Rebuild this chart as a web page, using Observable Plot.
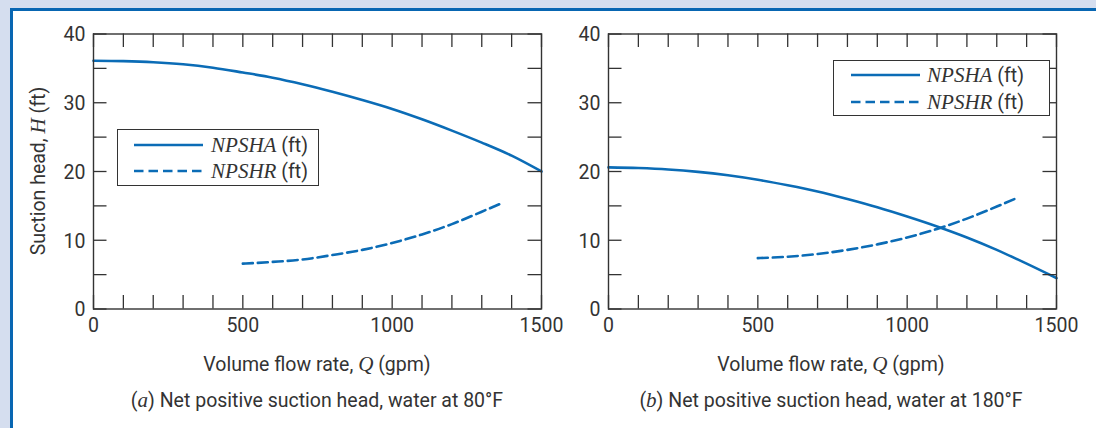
<!DOCTYPE html>
<html><head><meta charset="utf-8">
<script src="https://cdn.jsdelivr.net/npm/d3@7"></script>
<script src="https://cdn.jsdelivr.net/npm/@observablehq/plot@0.6"></script>
<style>
html,body{margin:0;padding:0}
body{width:1096px;height:428px;overflow:hidden;background:#fff;position:relative;font-family:Roboto,"Liberation Sans",sans-serif;color:#333}
.band-top{position:absolute;left:0;top:0;width:1096px;height:8px;background:#d5deef}
.line-top{position:absolute;left:10px;top:8px;width:1086px;height:3px;background:#0866b2}
.band-left{position:absolute;left:0;top:0;width:10px;height:428px;background:#d5deef}
.line-left{position:absolute;left:10px;top:8px;width:3px;height:420px;background:#0866b2}
.panel{position:absolute;top:0}
.lbl{position:absolute;font-size:19.5px;color:#333;white-space:nowrap;transform:translate(-50%,-50%)}
.it{font-family:"Liberation Serif","DejaVu Serif",serif;font-style:italic;font-size:1.08em}
.legend{position:absolute;box-sizing:border-box;border:1.2px solid #333;background:#fff}
.legend svg{position:absolute;overflow:visible}
.legend .txt{position:absolute;font-size:19.5px;white-space:nowrap;transform:translateY(-50%);color:#333}
.ytitle{position:absolute;left:38px;top:171px;font-size:19.5px;white-space:nowrap;transform:translate(-50%,-50%) rotate(-90deg);color:#333}
</style>
</head><body>
<div class="band-top"></div><div class="band-left"></div>
<div class="line-top"></div><div class="line-left"></div>
<div id="left" class="panel" style="left:0"></div>
<div id="right" class="panel" style="left:560px"></div>
<div class="ytitle">Suction head, <span class="it">H</span> (ft)</div>
<div class="lbl" style="left:317px;top:364px">Volume flow rate, <span class="it">Q</span> (gpm)</div>
<div class="lbl" style="left:317px;top:400px">(<span class="it">a</span>) Net positive suction head, water at 80°F</div>
<div class="lbl" style="left:831px;top:364px">Volume flow rate, <span class="it">Q</span> (gpm)</div>
<div class="lbl" style="left:831px;top:400px">(<span class="it">b</span>) Net positive suction head, water at 180°F</div>
<div id="legA" class="legend" style="left:117px;top:129px;width:202px;height:57px"></div>
<div id="legB" class="legend" style="left:833px;top:60px;width:217px;height:56px"></div>
<script>
// ---- data ----
const flowA = [0,100,200,300,400,500,600,700,800,900,1000,1100,1200,1300,1400,1500];
const npshaA80 = [36.1,36.05,35.9,35.6,35.1,34.4,33.65,32.7,31.6,30.4,29.1,27.6,25.95,24.2,22.3,20.0];
const npshaA180 = [20.6,20.5,20.3,19.95,19.45,18.8,18.0,17.1,16.0,14.8,13.45,12.0,10.4,8.6,6.6,4.5];
const flowR = [500,600,700,800,900,1000,1100,1200,1300,1370];
const npshrR80 = [6.6,6.85,7.2,7.85,8.6,9.6,10.85,12.35,14.15,15.45];
const npshrR180 = [7.4,7.6,8.0,8.6,9.4,10.4,11.65,13.15,14.9,16.2];
const xMinor = d3.range(0,1501,100);
const yMinor = d3.range(0,41,5);
const xLabels = [0,500,1000,1500];
const yLabels = [0,10,20,30,40];
const seriesNames = ["NPSHA","NPSHR"];

const blue = "#0b6cb6";
const ink = "#333";
const tickLen = 13.5;

function panel(aVals, rVals, ml, mr) {
  const W = ml + 448 + mr, H = 340, mt = 33.5, mb = 31.5;
  const pw = 448, ph = H - mt - mb;
  const A = flowA.map((q,i)=>({q, h:aVals[i]}));
  const R = flowR.map((q,i)=>({q, h:rVals[i]}));
  return Plot.plot({
    width: W, height: H,
    marginLeft: ml, marginRight: mr, marginTop: mt, marginBottom: mb,
    x: {domain:[0,1500], axis:null}, y: {domain:[0,40], axis:null},
    style: {fontFamily:'Roboto,"Liberation Sans",sans-serif', fontSize:"19.5px", color:ink, background:"transparent", overflow:"visible"},
    marks: [
      Plot.line(A, {x:"q", y:"h", stroke:blue, strokeWidth:2.6, curve:"monotone-x"}),
      Plot.line(R, {x:"q", y:"h", stroke:blue, strokeWidth:2.6, strokeDasharray:"10,5", curve:"monotone-x"}),
      Plot.tickX(xMinor, {x:d=>d, insetTop: ph - tickLen, stroke:ink, strokeWidth:1.3}),
      Plot.tickX(xMinor, {x:d=>d, insetBottom: ph - tickLen, stroke:ink, strokeWidth:1.3}),
      Plot.tickY(yMinor, {y:d=>d, insetRight: pw - tickLen, stroke:ink, strokeWidth:1.3}),
      Plot.tickY(yMinor, {y:d=>d, insetLeft: pw - tickLen, stroke:ink, strokeWidth:1.3}),
      Plot.frame({stroke:ink, strokeWidth:1.4}),
      Plot.text(xLabels, {x:d=>d, text:d=>String(d), frameAnchor:"bottom", dy:17, fontSize:19.5, fill:ink, lineAnchor:"middle"}),
      Plot.text(yLabels, {y:d=>d, text:d=>String(d), frameAnchor:"left", dx:-8, dy:1, textAnchor:"end", fontSize:19.5, fill:ink, lineAnchor:"middle"})
    ]
  });
}

document.getElementById("left").appendChild(panel(npshaA80, npshrR80, 93, 19));
document.getElementById("right").appendChild(panel(npshaA180, npshrR180, 48, 40));

function legend(id, lineLeft, textLeft, rows) {
  const el = document.getElementById(id);
  seriesNames.forEach((name, i) => {
    const y = rows[i];
    const svg = d3.create("svg").attr("width", 69).attr("height", 6)
      .style("left", lineLeft + "px").style("top", (y - 3) + "px");
    svg.append("line").attr("x1",0).attr("x2",69).attr("y1",3).attr("y2",3)
      .attr("stroke", blue).attr("stroke-width", 2.6)
      .attr("stroke-dasharray", i === 1 ? "9.5,5" : null);
    el.appendChild(svg.node());
    const t = document.createElement("div");
    t.className = "txt";
    t.style.left = textLeft + "px"; t.style.top = y + "px";
    t.innerHTML = `<span class="it">${name}</span> (ft)`;
    el.appendChild(t);
  });
}
legend("legA", 16, 93, [15, 41]);
legend("legB", 17, 93, [14, 41]);
</script>
</body></html>
